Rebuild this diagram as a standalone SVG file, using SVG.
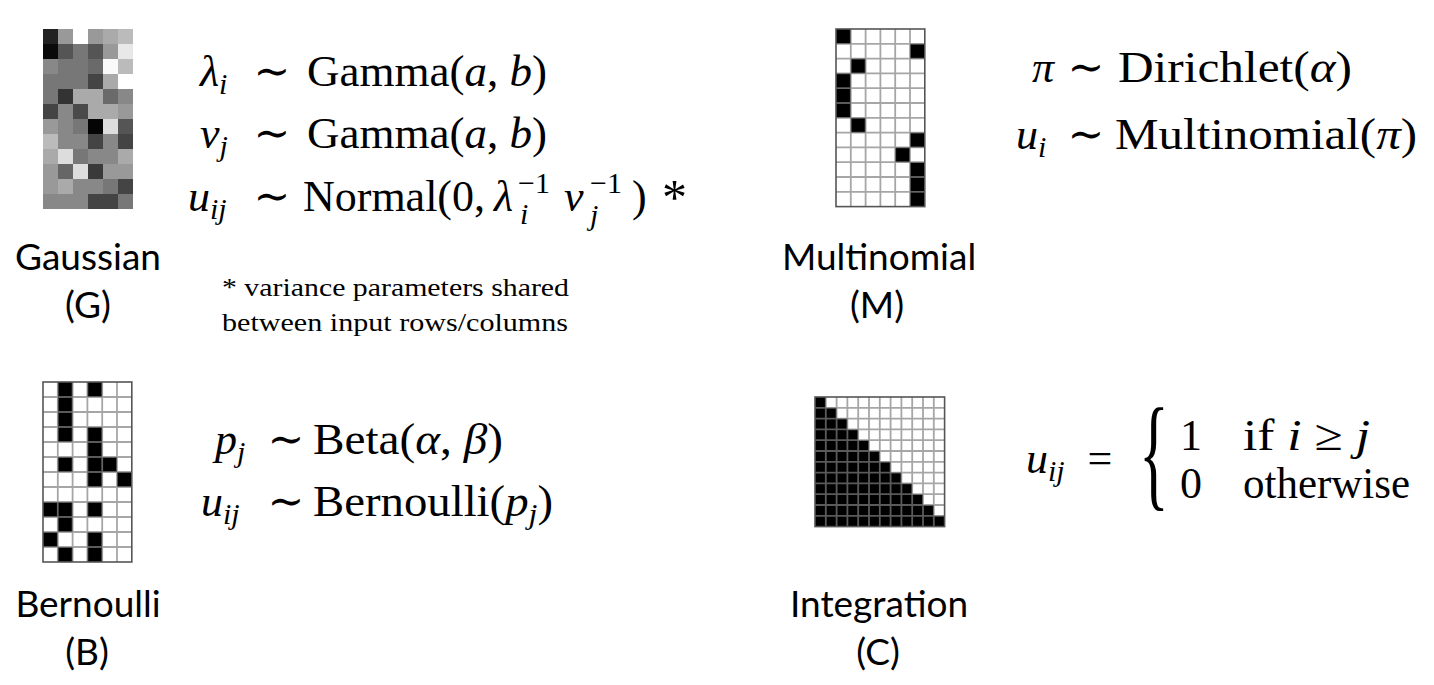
<svg xmlns="http://www.w3.org/2000/svg" width="1434" height="685" viewBox="0 0 1434 685">
<style>
.m{font-family:"Liberation Serif","DejaVu Serif",serif;font-size:44px;fill:#000}
.i{font-style:italic}
.s{font-size:30px}
.lbl{font-family:Lato,"Open Sans",sans-serif;font-size:37px;text-anchor:middle;fill:#000}
.fn{font-family:"Liberation Serif",serif;font-size:26px;fill:#000}
.gl{fill:none;stroke:#808080;stroke-opacity:0.7;stroke-width:1.8}
.bd{fill:none;stroke:#555;stroke-width:1.6}
.k{fill:#000}
</style>
<rect width="1434" height="685" fill="#fff"/>

<g id="gaussian">
<g id="gaussian-grid">
<rect x="43" y="29" width="15" height="15" fill="#222"/><rect x="58" y="29" width="15" height="15" fill="#999"/><rect x="73" y="29" width="15" height="15" fill="#fff"/><rect x="88" y="29" width="15" height="15" fill="#999"/><rect x="103" y="29" width="15" height="15" fill="#aaa"/><rect x="118" y="29" width="15" height="15" fill="#bbb"/>
<rect x="43" y="44" width="15" height="15" fill="#0a0a0a"/><rect x="58" y="44" width="15" height="15" fill="#555"/><rect x="73" y="44" width="15" height="15" fill="#777"/><rect x="88" y="44" width="15" height="15" fill="#555"/><rect x="103" y="44" width="15" height="15" fill="#999"/><rect x="118" y="44" width="15" height="15" fill="#e8e8e8"/>
<rect x="43" y="59" width="15" height="15" fill="#888"/><rect x="58" y="59" width="15" height="15" fill="#777"/><rect x="73" y="59" width="15" height="15" fill="#777"/><rect x="88" y="59" width="15" height="15" fill="#6a6a6a"/><rect x="103" y="59" width="15" height="15" fill="#fafafa"/><rect x="118" y="59" width="15" height="15" fill="#bbb"/>
<rect x="43" y="74" width="15" height="15" fill="#777"/><rect x="58" y="74" width="15" height="15" fill="#777"/><rect x="73" y="74" width="15" height="15" fill="#777"/><rect x="88" y="74" width="15" height="15" fill="#444"/><rect x="103" y="74" width="15" height="15" fill="#aaa"/><rect x="118" y="74" width="15" height="15" fill="#fff"/>
<rect x="43" y="89" width="15" height="15" fill="#777"/><rect x="58" y="89" width="15" height="15" fill="#333"/><rect x="73" y="89" width="15" height="15" fill="#aaa"/><rect x="88" y="89" width="15" height="15" fill="#aaa"/><rect x="103" y="89" width="15" height="15" fill="#6a6a6a"/><rect x="118" y="89" width="15" height="15" fill="#888"/>
<rect x="43" y="104" width="15" height="15" fill="#444"/><rect x="58" y="104" width="15" height="15" fill="#888"/><rect x="73" y="104" width="15" height="15" fill="#4a4a4a"/><rect x="88" y="104" width="15" height="15" fill="#aaa"/><rect x="103" y="104" width="15" height="15" fill="#aaa"/><rect x="118" y="104" width="15" height="15" fill="#999"/>
<rect x="43" y="119" width="15" height="15" fill="#999"/><rect x="58" y="119" width="15" height="15" fill="#888"/><rect x="73" y="119" width="15" height="15" fill="#777"/><rect x="88" y="119" width="15" height="15" fill="#050505"/><rect x="103" y="119" width="15" height="15" fill="#ddd"/><rect x="118" y="119" width="15" height="15" fill="#555"/>
<rect x="43" y="134" width="15" height="15" fill="#bbb"/><rect x="58" y="134" width="15" height="15" fill="#888"/><rect x="73" y="134" width="15" height="15" fill="#888"/><rect x="88" y="134" width="15" height="15" fill="#444"/><rect x="103" y="134" width="15" height="15" fill="#888"/><rect x="118" y="134" width="15" height="15" fill="#444"/>
<rect x="43" y="149" width="15" height="15" fill="#aaa"/><rect x="58" y="149" width="15" height="15" fill="#ddd"/><rect x="73" y="149" width="15" height="15" fill="#777"/><rect x="88" y="149" width="15" height="15" fill="#888"/><rect x="103" y="149" width="15" height="15" fill="#888"/><rect x="118" y="149" width="15" height="15" fill="#aaa"/>
<rect x="43" y="164" width="15" height="15" fill="#999"/><rect x="58" y="164" width="15" height="15" fill="#666"/><rect x="73" y="164" width="15" height="15" fill="#ddd"/><rect x="88" y="164" width="15" height="15" fill="#3a3a3a"/><rect x="103" y="164" width="15" height="15" fill="#999"/><rect x="118" y="164" width="15" height="15" fill="#999"/>
<rect x="43" y="179" width="15" height="15" fill="#999"/><rect x="58" y="179" width="15" height="15" fill="#aaa"/><rect x="73" y="179" width="15" height="15" fill="#888"/><rect x="88" y="179" width="15" height="15" fill="#888"/><rect x="103" y="179" width="15" height="15" fill="#777"/><rect x="118" y="179" width="15" height="15" fill="#444"/>
<rect x="43" y="194" width="15" height="15" fill="#888"/><rect x="58" y="194" width="15" height="15" fill="#888"/><rect x="73" y="194" width="15" height="15" fill="#888"/><rect x="88" y="194" width="15" height="15" fill="#444"/><rect x="103" y="194" width="15" height="15" fill="#444"/><rect x="118" y="194" width="15" height="15" fill="#777"/>
</g>
<text class="lbl" x="88" y="270">Gaussian</text>
<text class="lbl" x="88" y="318">(G)</text>
<g id="gaussian-formulas">
<text class="m" x="200" y="86"><tspan class="i">λ</tspan><tspan class="i s" dy="8">i</tspan></text>
<text class="m" x="272" y="86" text-anchor="middle">∼</text>
<text class="m" x="307" y="86" textLength="240" lengthAdjust="spacingAndGlyphs">Gamma(<tspan class="i">a</tspan>, <tspan class="i">b</tspan>)</text>
<text class="m" x="200" y="148"><tspan class="i">ν</tspan><tspan class="i s" dy="8">j</tspan></text>
<text class="m" x="272" y="148" text-anchor="middle">∼</text>
<text class="m" x="307" y="148" textLength="240" lengthAdjust="spacingAndGlyphs">Gamma(<tspan class="i">a</tspan>, <tspan class="i">b</tspan>)</text>
<text class="m" x="188" y="211"><tspan class="i">u</tspan><tspan class="i s" dy="8">ij</tspan></text>
<text class="m" x="272" y="211" text-anchor="middle">∼</text>
<text class="m" x="303" y="211" textLength="182" lengthAdjust="spacingAndGlyphs">Normal(0,</text>
<text class="m i" x="494" y="211">λ</text>
<text class="m s" x="518" y="193">−1</text>
<text class="m s i" x="520" y="224">i</text>
<text class="m i" x="564" y="211">ν</text>
<text class="m s" x="590" y="193">−1</text>
<text class="m s i" x="590" y="225">j</text>
<text class="m" x="632" y="211">)</text>
<text class="m" x="662" y="214" style="font-size:50px">*</text>
</g>
<text class="fn" x="222" y="296" textLength="347" lengthAdjust="spacingAndGlyphs">* variance parameters shared</text>
<text class="fn" x="222" y="331" textLength="346" lengthAdjust="spacingAndGlyphs">between input rows/columns</text>
</g>

<g id="multinomial">
<g id="multinomial-grid">
<rect x="836" y="29" width="88.8" height="177.6" fill="#fff"/>
<rect class="k" x="836" y="29" width="14.8" height="14.8"/>
<rect class="k" x="910" y="43.8" width="14.8" height="14.8"/>
<rect class="k" x="850.8" y="58.6" width="14.8" height="14.8"/>
<rect class="k" x="836" y="73.4" width="14.8" height="14.8"/>
<rect class="k" x="836" y="88.2" width="14.8" height="14.8"/>
<rect class="k" x="836" y="103" width="14.8" height="14.8"/>
<rect class="k" x="850.8" y="117.8" width="14.8" height="14.8"/>
<rect class="k" x="910" y="132.6" width="14.8" height="14.8"/>
<rect class="k" x="895.2" y="147.4" width="14.8" height="14.8"/>
<rect class="k" x="910" y="162.2" width="14.8" height="14.8"/>
<rect class="k" x="910" y="177" width="14.8" height="14.8"/>
<rect class="k" x="910" y="191.8" width="14.8" height="14.8"/>
<path class="gl" d="M850.8 29V206.6M865.6 29V206.6M880.4 29V206.6M895.2 29V206.6M910 29V206.6M836 43.8H924.8M836 58.6H924.8M836 73.4H924.8M836 88.2H924.8M836 103H924.8M836 117.8H924.8M836 132.6H924.8M836 147.4H924.8M836 162.2H924.8M836 177H924.8M836 191.8H924.8"/>
<rect class="bd" x="836" y="29" width="88.8" height="177.6"/>
</g>
<text class="lbl" x="879" y="270">Multinomial</text>
<text class="lbl" x="877" y="318">(M)</text>
<g id="multinomial-formulas">
<text class="m i" x="1032" y="82">π</text>
<text class="m" x="1086" y="82" text-anchor="middle">∼</text>
<text class="m" x="1118" y="82" textLength="234" lengthAdjust="spacingAndGlyphs">Dirichlet(<tspan class="i">α</tspan>)</text>
<text class="m" x="1016" y="149"><tspan class="i">u</tspan><tspan class="i s" dy="8">i</tspan></text>
<text class="m" x="1086" y="149" text-anchor="middle">∼</text>
<text class="m" x="1115" y="149" textLength="302" lengthAdjust="spacingAndGlyphs">Multinomial(<tspan class="i">π</tspan>)</text>
</g>
</g>

<g id="bernoulli">
<g id="bernoulli-grid">
<rect x="43" y="382" width="88.8" height="180" fill="#fff"/>
<rect class="k" x="57.8" y="382" width="14.8" height="15"/><rect class="k" x="87.4" y="382" width="14.8" height="15"/>
<rect class="k" x="57.8" y="397" width="14.8" height="15"/>
<rect class="k" x="57.8" y="412" width="14.8" height="15"/>
<rect class="k" x="57.8" y="427" width="14.8" height="15"/><rect class="k" x="87.4" y="427" width="14.8" height="15"/>
<rect class="k" x="87.4" y="442" width="14.8" height="15"/>
<rect class="k" x="57.8" y="457" width="14.8" height="15"/><rect class="k" x="87.4" y="457" width="14.8" height="15"/><rect class="k" x="102.2" y="457" width="14.8" height="15"/>
<rect class="k" x="87.4" y="472" width="14.8" height="15"/><rect class="k" x="117" y="472" width="14.8" height="15"/>
<rect class="k" x="43" y="502" width="14.8" height="15"/><rect class="k" x="57.8" y="502" width="14.8" height="15"/><rect class="k" x="87.4" y="502" width="14.8" height="15"/>
<rect class="k" x="57.8" y="517" width="14.8" height="15"/>
<rect class="k" x="43" y="532" width="14.8" height="15"/><rect class="k" x="87.4" y="532" width="14.8" height="15"/>
<rect class="k" x="57.8" y="547" width="14.8" height="15"/><rect class="k" x="87.4" y="547" width="14.8" height="15"/>
<path class="gl" d="M57.8 382V562M72.6 382V562M87.4 382V562M102.2 382V562M117 382V562M43 397H131.8M43 412H131.8M43 427H131.8M43 442H131.8M43 457H131.8M43 472H131.8M43 487H131.8M43 502H131.8M43 517H131.8M43 532H131.8M43 547H131.8"/>
<rect class="bd" x="43" y="382" width="88.8" height="180"/>
</g>
<text class="lbl" x="88" y="617">Bernoulli</text>
<text class="lbl" x="87" y="665">(B)</text>
<g id="bernoulli-formulas">
<text class="m" x="215" y="454"><tspan class="i">p</tspan><tspan class="i s" dy="8">j</tspan></text>
<text class="m" x="286" y="454" text-anchor="middle">∼</text>
<text class="m" x="313" y="454" textLength="190" lengthAdjust="spacingAndGlyphs">Beta(<tspan class="i">α</tspan>, <tspan class="i">β</tspan>)</text>
<text class="m" x="201" y="516"><tspan class="i">u</tspan><tspan class="i s" dy="8">ij</tspan></text>
<text class="m" x="286" y="516" text-anchor="middle">∼</text>
<text class="m" x="313" y="516" textLength="240" lengthAdjust="spacingAndGlyphs">Bernoulli(<tspan class="i">p</tspan><tspan class="i s" dy="8">j</tspan><tspan dy="-8">)</tspan></text>
</g>
</g>

<g id="integration">
<g id="integration-grid">
<rect x="815" y="397" width="129.6" height="129.6" fill="#fff"/>
<polygon class="k" points="815,397 825.8,397 825.8,407.8 836.6,407.8 836.6,418.6 847.4,418.6 847.4,429.4 858.2,429.4 858.2,440.2 869,440.2 869,451 879.8,451 879.8,461.8 890.6,461.8 890.6,472.6 901.4,472.6 901.4,483.4 912.2,483.4 912.2,494.2 923,494.2 923,505 933.8,505 933.8,515.8 944.6,515.8 944.6,526.6 815,526.6"/>
<path class="gl" d="M825.8 397V526.6M836.6 397V526.6M847.4 397V526.6M858.2 397V526.6M869 397V526.6M879.8 397V526.6M890.6 397V526.6M901.4 397V526.6M912.2 397V526.6M923 397V526.6M933.8 397V526.6M815 407.8H944.6M815 418.6H944.6M815 429.4H944.6M815 440.2H944.6M815 451H944.6M815 461.8H944.6M815 472.6H944.6M815 483.4H944.6M815 494.2H944.6M815 505H944.6M815 515.8H944.6"/>
<rect class="bd" x="815" y="397" width="129.6" height="129.6"/>
</g>
<text class="lbl" x="879" y="617">Integration</text>
<text class="lbl" x="878" y="665">(C)</text>
<g id="integration-formula">
<text class="m" x="1026" y="473"><tspan class="i">u</tspan><tspan class="i s" dy="8">ij</tspan></text>
<text class="m" x="1100" y="473" text-anchor="middle">=</text>
<text class="m" transform="translate(1139,494) scale(0.5,1)" style="font-size:124px" x="0" y="0">{</text>
<text class="m" x="1180" y="450">1</text>
<text class="m" x="1243" y="450" textLength="127" lengthAdjust="spacingAndGlyphs">if <tspan class="i">i</tspan> ≥ <tspan class="i">j</tspan></text>
<text class="m" x="1180" y="498">0</text>
<text class="m" x="1243" y="498" textLength="167" lengthAdjust="spacingAndGlyphs">otherwise</text>
</g>
</g>
<g id="connectors"/>
</svg>
